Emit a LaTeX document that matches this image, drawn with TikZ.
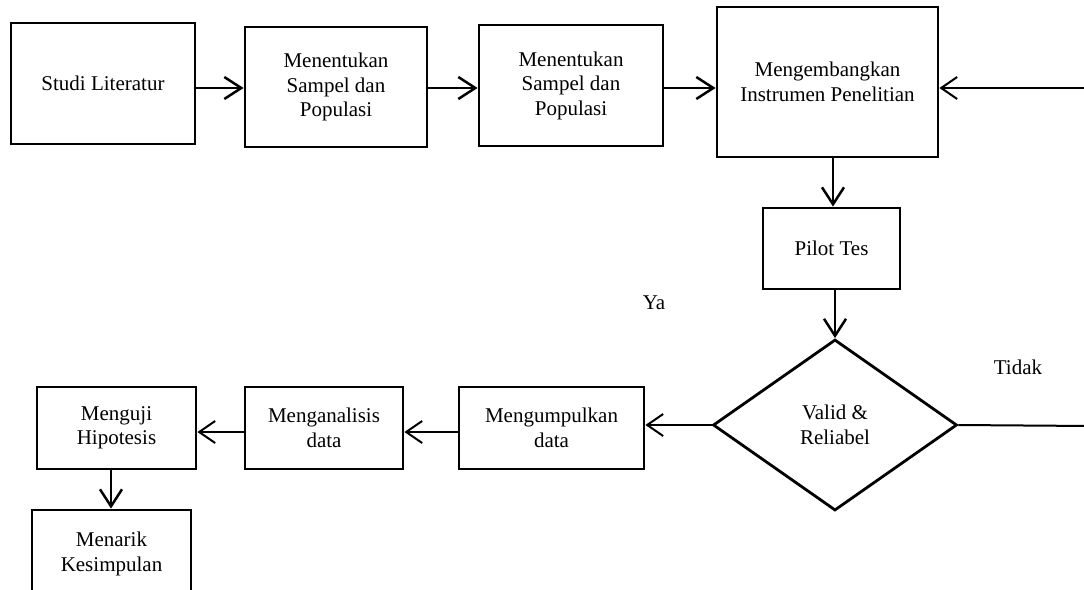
\documentclass[tikz,border=0pt]{standalone}
\usepackage{fontspec}
\setmainfont{Liberation Serif}
\usetikzlibrary{arrows.meta,shapes.geometric}
\begin{document}
\begin{tikzpicture}[x=1pt,y=-1pt,
  box/.style={draw,line width=2.8pt,rectangle,inner sep=0pt,align=center,
    font=\fontsize{21}{24.5}\selectfont},
  lbl/.style={font=\fontsize{21}{24.5}\selectfont},
  arr/.style={line width=2.5pt,-{Straight Barb[length=17pt,width=22pt,line width=2.5pt]}},
  arrthin/.style={line width=2pt,-{Straight Barb[length=16pt,width=22pt,line width=2pt]}},
  ln/.style={line width=2pt}]
\clip (0,0) rectangle (1084,589);
\fill[white] (0,0) rectangle (1084,589);
% top row
\node[box,minimum width=184pt,minimum height=121pt] (studi) at (103,83.5) {Studi Literatur};
\node[box,minimum width=182pt,minimum height=120pt] (tentu1) at (336,87) {Menentukan\\Sampel dan\\Populasi};
\node[box,minimum width=184pt,minimum height=121pt] (tentu2) at (571,85.5) {Menentukan\\Sampel dan\\Populasi};
\node[box,minimum width=221pt,minimum height=150pt] (kembang) at (827.5,82) {Mengembangkan\\Instrumen Penelitian};
\node[box,minimum width=137pt,minimum height=81pt] (pilot) at (831.5,248.5) {Pilot Tes};
\node[draw,line width=2.8pt,diamond,shape aspect=1.43,minimum width=244pt,minimum height=171pt,inner sep=0pt,align=center,
  font=\fontsize{21}{24.5}\selectfont] (valid) at (835,425) {Valid \&\\Reliabel};
% bottom row
\node[box,minimum width=185pt,minimum height=82pt] (kumpul) at (551.5,428) {Mengumpulkan\\data};
\node[box,minimum width=158pt,minimum height=82pt] (analisis) at (324,428) {Menganalisis\\data};
\node[box,minimum width=159pt,minimum height=82pt] (uji) at (116.5,428) {Menguji\\Hipotesis};
\node[box,minimum width=159pt,minimum height=88pt] (tarik) at (111.5,554) {Menarik\\Kesimpulan};
% labels
\node[lbl] (ya) at (654,303) {Ya};
\node[lbl] (tidak) at (1018,367) {Tidak};
% helper coordinates
\coordinate (ytop) at (0,88);
\coordinate (ybot) at (0,432);
\coordinate (rtop) at (1090,88);
\coordinate (rbot) at (1090,426);
% connectors
\draw[arr] (studi.east |- ytop) -- (tentu1.west |- ytop);
\draw[arr] (tentu1.east |- ytop) -- (tentu2.west |- ytop);
\draw[arr] (tentu2.east |- ytop) -- (kembang.west |- ytop);
\draw[arrthin] (rtop) -- (kembang.east |- rtop);
\draw[arr] (kembang.south -| 833,0) -- (pilot.north -| 833,0);
\draw[arr] (pilot.south -| valid.north) -- (valid.north);
\draw[ln] (valid.east) -- (rbot);
\draw[arrthin] (valid.west) -- (kumpul.east |- valid.west);
\draw[arrthin] (kumpul.west |- ybot) -- (analisis.east |- ybot);
\draw[arrthin] (analisis.west |- ybot) -- (uji.east |- ybot);
\draw[arr] (uji.south -| 111,0) -- (tarik.north -| 111,0);
\end{tikzpicture}
\end{document}
